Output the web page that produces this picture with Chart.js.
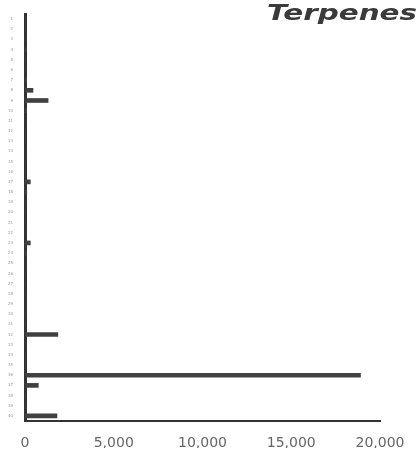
<!DOCTYPE html>
<html>
<head>
<meta charset="utf-8">
<script src="https://cdn.jsdelivr.net/npm/chart.js@4"></script>
<style>
  html, body { margin: 0; padding: 0; background: #fff; }
  #wrap { width: 420px; height: 460px; }
</style>
</head>
<body>
<div id="wrap"><canvas id="terpChart" width="420" height="460"></canvas></div>
<script>
// kategorie (popisky jsou v originale necitelne, jen male znacky)
const categories = [
    '1', '2', '3', '4', '5', '6', '7', '8', '9', '10',
    '11', '12', '13', '14', '15', '16', '17', '18', '19', '20',
    '21', '22', '23', '24', '25', '26', '27', '28', '29', '30',
    '31', '32', '33', '34', '35', '36', '37', '38', '39', '40'
];

// hodnoty odhadnute z obrazku
const terpeneValues = [
    0, 0, 0, 60, 0, 0, 80, 450, 1300, 90,
    0, 0, 0, 0, 0, 0, 300, 100, 0, 0,
    0, 0, 300, 80, 0, 0, 0, 0, 0, 0,
    0, 1850, 0, 0, 0, 18900, 750, 0, 0, 1800
];

const xTicks = [0, 5000, 10000, 15000, 20000];
const chartTitle = 'Terpenes';

// vlastni titulek vpravo nahore, aby nezabiral misto v layoutu
const titlePlugin = {
    id: 'cornerTitle',
    afterDraw(chart) {
        const ctx = chart.ctx;
        ctx.save();
        ctx.font = 'italic bold 21px "DejaVu Sans"';
        ctx.fillStyle = '#3a3a3a';
        ctx.textAlign = 'left';
        ctx.textBaseline = 'alphabetic';
        const w = ctx.measureText(chartTitle).width;
        const sx = 150 / w; // originalni pismo je sirsi
        ctx.translate(267, 20);
        ctx.scale(sx, 1);
        ctx.fillText(chartTitle, 0, 0);
        ctx.restore();
    }
};

const ctx = document.getElementById('terpChart').getContext('2d');
new Chart(ctx, {
    type: 'bar',
    data: {
        labels: categories,
        datasets: [{
            label: chartTitle,
            data: terpeneValues,
            backgroundColor: '#404040',
            barThickness: 4
        }]
    },
    options: {
        indexAxis: 'y',
        responsive: false,
        animation: false,
        layout: { padding: { top: 14, right: 40, bottom: 12, left: 0 } },
        plugins: {
            legend: { display: false },
            tooltip: { enabled: false }
        },
        scales: {
            x: {
                min: 0,
                max: 20000,
                afterFit(scale) { scale.height = 27; },
                afterBuildTicks(scale) { scale.ticks = xTicks.map(v => ({ value: v })); },
                grid: { display: false },
                border: { display: true, color: '#333', width: 2 },
                ticks: {
                    color: '#666',
                    font: { family: 'DejaVu Sans', size: 14 },
                    maxRotation: 0,
                    padding: 6,
                    callback: v => v.toLocaleString('en-US')
                }
            },
            y: {
                afterFit(scale) { scale.width = 25; },
                grid: { display: false },
                border: { display: true, color: '#333', width: 3 },
                ticks: {
                    color: '#999',
                    font: { family: 'DejaVu Sans', size: 4 },
                    autoSkip: false,
                    padding: 4
                }
            }
        }
    },
    plugins: [titlePlugin]
});
</script>
</body>
</html>
